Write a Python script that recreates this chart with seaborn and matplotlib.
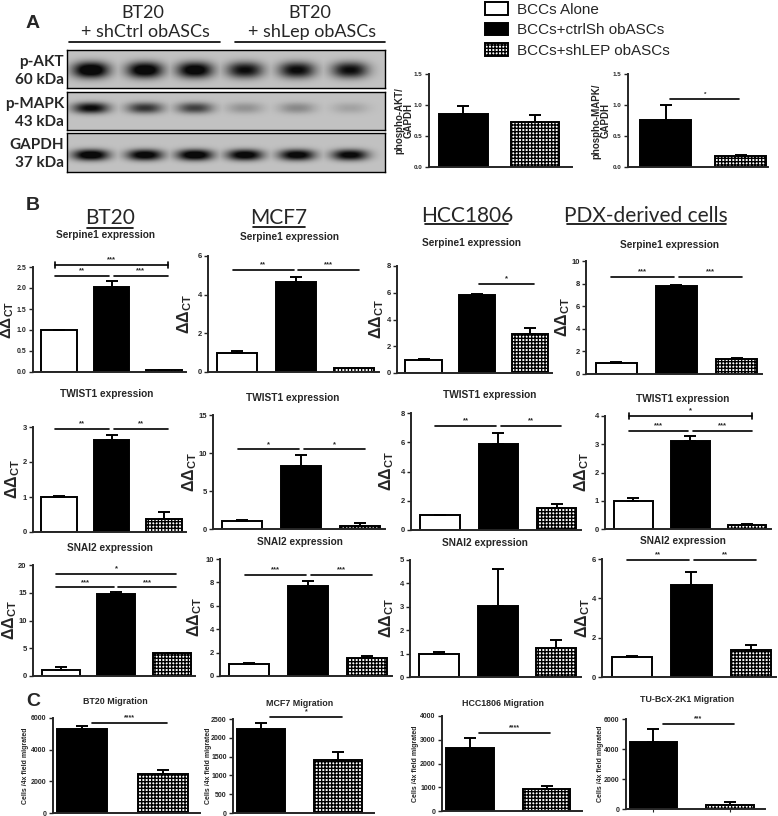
import numpy as np
import pandas as pd
import matplotlib.pyplot as plt
import seaborn as sns
from matplotlib.patches import Patch
from matplotlib.lines import Line2D

W, H = 778, 816

groups = ['BCCs Alone', 'BCCs+ctrlSh obASCs', 'BCCs+shLEP obASCs']
cell_lines = ['BT20', 'MCF7', 'HCC1806', 'PDX-derived cells']
genes = ['Serpine1', 'TWIST1', 'SNAI2']

# panel A: western blot band strength per lane (3x shCtrl, 3x shLep) and quantification
akt_bands = [1.0, 0.95, 0.92, 0.78, 0.8, 0.78]
mapk_bands = [0.8, 0.6, 0.55, 0.2, 0.24, 0.13]
gapdh_bands = [0.95, 0.9, 0.95, 0.9, 0.88, 0.85]
akt_vals = [0.85, 0.73]
akt_err = [0.13, 0.11]
mapk_vals = [0.75, 0.17]
mapk_err = [0.25, 0.02]

# panel B: ddCT values (alone, ctrlSh, shLEP)
serpine1_vals = {'BT20': [1.0, 2.03, 0.04], 'MCF7': [1.0, 4.65, 0.2],
                 'HCC1806': [1.0, 5.8, 2.9], 'PDX-derived cells': [1.0, 7.8, 1.3]}
serpine1_err = {'BT20': [0.0, 0.13, 0.01], 'MCF7': [0.08, 0.28, 0.02],
                'HCC1806': [0.03, 0.1, 0.5], 'PDX-derived cells': [0.03, 0.08, 0.1]}
twist1_vals = {'BT20': [1.0, 2.62, 0.36], 'MCF7': [1.0, 8.3, 0.4],
               'HCC1806': [1.0, 5.85, 1.5], 'PDX-derived cells': [1.0, 3.1, 0.15]}
twist1_err = {'BT20': [0.02, 0.14, 0.2], 'MCF7': [0.2, 1.5, 0.4],
              'HCC1806': [0.05, 0.8, 0.3], 'PDX-derived cells': [0.08, 0.2, 0.02]}
snai2_vals = {'BT20': [1.1, 14.8, 4.1], 'MCF7': [1.0, 7.65, 1.55],
              'HCC1806': [1.0, 3.05, 1.25], 'PDX-derived cells': [1.0, 4.7, 1.35]}
snai2_err = {'BT20': [0.45, 0.4, 0.05], 'MCF7': [0.15, 0.5, 0.2],
             'HCC1806': [0.08, 1.55, 0.33], 'PDX-derived cells': [0.05, 0.63, 0.3]}
gene_vals = {'Serpine1': serpine1_vals, 'TWIST1': twist1_vals, 'SNAI2': snai2_vals}
gene_err = {'Serpine1': serpine1_err, 'TWIST1': twist1_err, 'SNAI2': snai2_err}

# significance marks: (bar i, bar j, height, label, kind)
gene_sigs = {
    ('Serpine1', 'BT20'): [(0, 1, 2.29, '**', 'pair'), (1, 2, 2.29, '***', 'pair'), (0, 2, 2.55, '***', 'bracket')],
    ('Serpine1', 'MCF7'): [(0, 1, 5.28, '**', 'pair'), (1, 2, 5.28, '***', 'pair')],
    ('Serpine1', 'HCC1806'): [(1, 2, 6.65, '*', 'pair')],
    ('Serpine1', 'PDX-derived cells'): [(0, 1, 8.58, '***', 'pair'), (1, 2, 8.58, '***', 'pair')],
    ('TWIST1', 'BT20'): [(0, 1, 2.94, '**', 'pair'), (1, 2, 2.94, '**', 'pair')],
    ('TWIST1', 'MCF7'): [(0, 1, 10.5, '*', 'pair'), (1, 2, 10.5, '*', 'pair')],
    ('TWIST1', 'HCC1806'): [(0, 1, 7.11, '**', 'pair'), (1, 2, 7.11, '**', 'pair')],
    ('TWIST1', 'PDX-derived cells'): [(0, 1, 3.47, '***', 'pair'), (1, 2, 3.47, '***', 'pair'), (0, 2, 4.0, '*', 'bracket')],
    ('SNAI2', 'BT20'): [(0, 1, 16.0, '***', 'pair'), (1, 2, 16.0, '***', 'pair'), (0, 2, 18.4, '*', 'span')],
    ('SNAI2', 'MCF7'): [(0, 1, 8.63, '***', 'pair'), (1, 2, 8.63, '***', 'pair')],
    ('SNAI2', 'HCC1806'): [],
    ('SNAI2', 'PDX-derived cells'): [(0, 1, 5.95, '**', 'pair'), (1, 2, 5.95, '**', 'pair')],
}
gene_ticks = {
    ('Serpine1', 'BT20'): [0, 0.5, 1.0, 1.5, 2.0, 2.5], ('Serpine1', 'MCF7'): [0, 2, 4, 6],
    ('Serpine1', 'HCC1806'): [0, 2, 4, 6, 8], ('Serpine1', 'PDX-derived cells'): [0, 2, 4, 6, 8, 10],
    ('TWIST1', 'BT20'): [0, 1, 2, 3], ('TWIST1', 'MCF7'): [0, 5, 10, 15],
    ('TWIST1', 'HCC1806'): [0, 2, 4, 6, 8], ('TWIST1', 'PDX-derived cells'): [0, 1, 2, 3, 4],
    ('SNAI2', 'BT20'): [0, 5, 10, 15, 20], ('SNAI2', 'MCF7'): [0, 2, 4, 6, 8, 10],
    ('SNAI2', 'HCC1806'): [0, 1, 2, 3, 4, 5], ('SNAI2', 'PDX-derived cells'): [0, 2, 4, 6],
}

# panel C: migration (ctrlSh, shLEP)
mig_titles = ['BT20 Migration', 'MCF7 Migration', 'HCC1806 Migration', 'TU-BcX-2K1 Migration']
mig_vals = [[5300, 2450], [2230, 1400], [2650, 920], [4470, 270]]
mig_err = [[200, 260], [160, 210], [420, 130], [870, 200]]
mig_ticks = [[0, 2000, 4000, 6000], [0, 500, 1000, 1500, 2000, 2500],
             [0, 1000, 2000, 3000, 4000], [0, 2000, 4000, 6000]]
mig_sigs = [[(0, 1, 5684, '****', 'mig')], [(0, 1, 2553, '*', 'mig')],
            [(0, 1, 3284, '****', 'mig')], [(0, 1, 5667, '***', 'mig')]]

# ---------------- layout (pixels: y-axis x, x-axis end, top, bottom) ----------------
b_rects = {
    ('Serpine1', 'BT20'): (33, 186, 267, 372), ('Serpine1', 'MCF7'): (208, 379, 256, 372),
    ('Serpine1', 'HCC1806'): (397, 552, 266, 373), ('Serpine1', 'PDX-derived cells'): (586, 762, 261, 374),
    ('TWIST1', 'BT20'): (33, 186, 427, 532), ('TWIST1', 'MCF7'): (213, 385, 415, 529),
    ('TWIST1', 'HCC1806'): (411, 581, 413, 530), ('TWIST1', 'PDX-derived cells'): (605, 771, 416, 529),
    ('SNAI2', 'BT20'): (33, 195, 565, 676), ('SNAI2', 'MCF7'): (220, 392, 559, 676),
    ('SNAI2', 'HCC1806'): (410, 581, 560, 677), ('SNAI2', 'PDX-derived cells'): (602, 776, 559, 677),
}
b_titles = {
    ('Serpine1', 'BT20'): (105, 235), ('Serpine1', 'MCF7'): (290, 237),
    ('Serpine1', 'HCC1806'): (472, 243), ('Serpine1', 'PDX-derived cells'): (670, 245),
    ('TWIST1', 'BT20'): (107, 394), ('TWIST1', 'MCF7'): (293, 398),
    ('TWIST1', 'HCC1806'): (490, 395), ('TWIST1', 'PDX-derived cells'): (683, 399),
    ('SNAI2', 'BT20'): (110, 548), ('SNAI2', 'MCF7'): (300, 542),
    ('SNAI2', 'HCC1806'): (485, 543), ('SNAI2', 'PDX-derived cells'): (683, 541),
}
b_ylab_x = {'Serpine1': [8, 185, 377, 563], 'TWIST1': [13, 190, 387, 582], 'SNAI2': [10, 195, 387, 583]}
c_rects = [(53, 200, 718, 813), (233, 374, 719, 813), (442, 582, 716, 811), (626, 765, 719, 809)]
c_titles = [(115, 702), (300, 704), (503, 703), (687, 700)]
c_ylab_x = [26, 209, 416, 601]

COLORS = {groups[0]: 'white', groups[1]: 'black', groups[2]: 'white'}
HATCH = '+++++'

sns.set_style('ticks')
plt.rcParams['font.family'] = ['Liberation Sans', 'DejaVu Sans']
plt.rcParams['hatch.linewidth'] = 1.0
plt.rcParams['hatch.color'] = 'black'
plt.rcParams['mathtext.fontset'] = 'custom'
plt.rcParams['mathtext.bf'] = 'Liberation Sans:bold'
plt.rcParams['mathtext.rm'] = 'Liberation Sans'

fig = plt.figure(figsize=(W / 100, H / 100), dpi=100)


def px_axes(x0, x1, ytop, ybot):
    return fig.add_axes([x0 / W, 1 - ybot / H, (x1 - x0) / W, (ybot - ytop) / H])


def ftext(x, y, s, **kw):
    fig.text(x / W, 1 - y / H, s, **kw)


def fline(xa, xb, y, lw=1.2):
    fig.add_artist(Line2D([xa / W, xb / W], [1 - y / H, 1 - y / H], color='black', lw=lw))


def bar_panel(rect, labels, vals, errs, yticks, fmt, xlim, width, sigs, tick_fs=5.5, star_fs=5.5):
    ax = px_axes(*rect)
    df = pd.DataFrame({'group': labels, 'value': vals})
    sns.barplot(data=df, x='group', y='value', hue='group', order=labels, hue_order=labels,
                palette=COLORS, edgecolor='black', linewidth=1.4, width=width,
                errorbar=None, legend=False, ax=ax)
    for patch, g in zip(ax.patches, labels):
        if g == groups[2]:
            patch.set_hatch(HATCH)
    pos = np.arange(len(vals))
    ax.errorbar(pos, vals, yerr=[np.zeros(len(errs)), errs], fmt='none', ecolor='black',
                elinewidth=1.4, capsize=4, capthick=1.4, zorder=1)
    ax.set_xlim(*xlim)
    ax.set_ylim(0, yticks[-1])
    ax.set_yticks(yticks)
    ax.set_yticklabels([fmt % t for t in yticks], fontweight='bold', fontsize=tick_fs)
    ax.set_xticks([])
    ax.set_xlabel('')
    ax.set_ylabel('')
    ax.tick_params(axis='y', length=3, width=1, pad=1.5)
    sns.despine(ax=ax)
    for s in ['left', 'bottom']:
        ax.spines[s].set_linewidth(1.4)
    ymax = yticks[-1]
    for i, j, y, lab, kind in sigs:
        if kind == 'pair':
            xa, xb = (i - 0.08, j - 0.04) if i == 0 else (i + 0.04, j + 0.08)
        elif kind == 'mig':
            xa, xb = i + 0.12, j + 0.05
        elif kind == 'inner':
            xa, xb = i + 0.06, j - 0.02
        else:
            xa, xb = i - 0.08, j + 0.08
        ax.plot([xa, xb], [y, y], color='black', lw=1.2, clip_on=False)
        if kind == 'bracket':
            for xe in (xa, xb):
                ax.plot([xe, xe], [y - 0.025 * ymax, y + 0.025 * ymax], color='black', lw=1.2, clip_on=False)
        ax.annotate(lab, ((xa + xb) / 2, y), xytext=(0, 1), textcoords='offset points',
                    ha='center', va='bottom', fontsize=star_fs, fontweight='bold', annotation_clip=False)
    return ax


# ---------------- panel A ----------------
ftext(33, 23, 'A', fontsize=14, fontweight='bold', ha='center', va='center')
for cx, sub in [(143, '+ shCtrl obASCs'), (310, '+ shLep obASCs')]:
    ftext(cx, 13, 'BT20', fontsize=13, family='Lato', ha='center', va='center')
    ftext(cx + 2, 32, sub, fontsize=13, family='Lato', ha='center', va='center')
fline(69, 220, 42)
fline(235, 385, 42)

lane_x = np.array([24, 78, 128, 178, 230, 283])
strips = [('p-AKT', '60 kDa', akt_bands, 50, 88, 20, 8),
          ('p-MAPK', '43 kDa', mapk_bands, 92, 130, 16, 5.5),
          ('GAPDH', '37 kDa', gapdh_bands, 133, 172, 22, 5.5)]
for name, kda, bands, yt, yb, cy, hy in strips:
    ax = px_axes(67, 385, yt, yb)
    w, h = 318, yb - yt
    xx, yy = np.meshgrid(np.arange(w) + 0.5, np.arange(h) + 0.5)
    dark = np.zeros_like(xx)
    for lx, a in zip(lane_x, bands):
        dark = np.maximum(dark, a * np.exp(-np.abs((xx - lx) / 18) ** 2.4 - np.abs((yy - cy) / hy) ** 2.2))
    img = 0.76 - 0.72 * np.clip(dark * 1.3, 0, 1)
    ax.imshow(img, cmap='gray', vmin=0, vmax=1, extent=[0, w, h, 0], aspect='auto', interpolation='bilinear')
    ax.set_xticks([])
    ax.set_yticks([])
    for s in ax.spines.values():
        s.set_linewidth(1.0)
        s.set_color('black')
    ftext(64, yt + 12, name, fontsize=11, fontweight='bold', family='Lato', ha='right', va='center')
    ftext(64, yt + 30, kda, fontsize=11, fontweight='bold', family='Lato', ha='right', va='center')

a_groups = groups[1:]
bar_panel((429, 572, 74, 167), a_groups, akt_vals, akt_err, [0, 0.5, 1.0, 1.5], '%.1f',
          (-0.48, 1.52), 0.68, [], tick_fs=4.5)
bar_panel((628, 768, 74, 167), a_groups, mapk_vals, mapk_err, [0, 0.5, 1.0, 1.5], '%.1f',
          (-0.5, 1.36), 0.68, [(0, 1, 1.1, '*', 'inner')], tick_fs=4.5, star_fs=4.5)
ftext(404, 121, 'phospho-AKT/\nGAPDH', fontsize=7, fontweight='bold', rotation=90, ha='center', va='center', linespacing=1.0)
ftext(601, 121, 'phospho-MAPK/\nGAPDH', fontsize=7, fontweight='bold', rotation=90, ha='center', va='center', linespacing=1.0)

fig.legend(handles=[Patch(facecolor=COLORS[g], edgecolor='black', linewidth=1.4, hatch=HATCH if g == groups[2] else None, label=g)
                    for g in groups],
           loc='upper left', bbox_to_anchor=(485 / W, 1 - 2 / H), frameon=False, fontsize=11,
           handlelength=1.5, handleheight=0.9, handletextpad=0.6, labelspacing=0.4, borderpad=0, borderaxespad=0)

# ---------------- panel B ----------------
ftext(33, 205, 'B', fontsize=14, fontweight='bold', ha='center', va='center')
header_pos = {'BT20': (110, 218, 87, 133, 228), 'MCF7': (279, 218, 253, 305, 227),
              'HCC1806': (467, 216, 425, 508, 224), 'PDX-derived cells': (646, 216, 567, 726, 224)}
for cell in cell_lines:
    hx, hy, ua, ub, uy = header_pos[cell]
    ftext(hx, hy, cell, fontsize=15, family='Lato', ha='center', va='center')
    fline(ua, ub, uy)

for gene in genes:
    for ci, cell in enumerate(cell_lines):
        key = (gene, cell)
        ticks = gene_ticks[key]
        decimal = key == ('Serpine1', 'BT20')
        rect = b_rects[key]
        bar_panel(rect, groups, gene_vals[gene][cell], gene_err[gene][cell], ticks,
                  '%.1f' if decimal else '%d', (-0.5, 2.42), 0.68, gene_sigs[key],
                  tick_fs=5 if decimal else 5.5)
        tx, ty = b_titles[key]
        ftext(tx, ty, gene + ' expression', fontsize=7.3, fontweight='bold', ha='center', va='center')
        ftext(b_ylab_x[gene][ci], (rect[2] + rect[3]) / 2, r'ΔΔ$_{\mathbf{CT}}$', fontsize=11 if decimal else 11.5,
              fontweight='bold', rotation=90, ha='center', va='center')

# ---------------- panel C ----------------
ftext(33, 701, 'C', fontsize=14, fontweight='bold', ha='center', va='center')
for k in range(4):
    rect = c_rects[k]
    ax = bar_panel(rect, a_groups, mig_vals[k], mig_err[k], mig_ticks[k], '%d',
                   (-0.36, 1.46), 0.62, mig_sigs[k], tick_fs=5, star_fs=5)
    if k == 3:
        ax.set_xticks([0, 1])
        ax.set_xticklabels(['', ''])
        ax.tick_params(axis='x', length=2, width=0.8)
    tx, ty = c_titles[k]
    ftext(tx, ty, mig_titles[k], fontsize=6.4, fontweight='bold', ha='center', va='center')
    ftext(c_ylab_x[k], (rect[2] + rect[3]) / 2, 'Cells /4x field migrated', fontsize=5,
          fontweight='bold', rotation=90, ha='center', va='center')

fig.savefig('out.png', dpi=100)
